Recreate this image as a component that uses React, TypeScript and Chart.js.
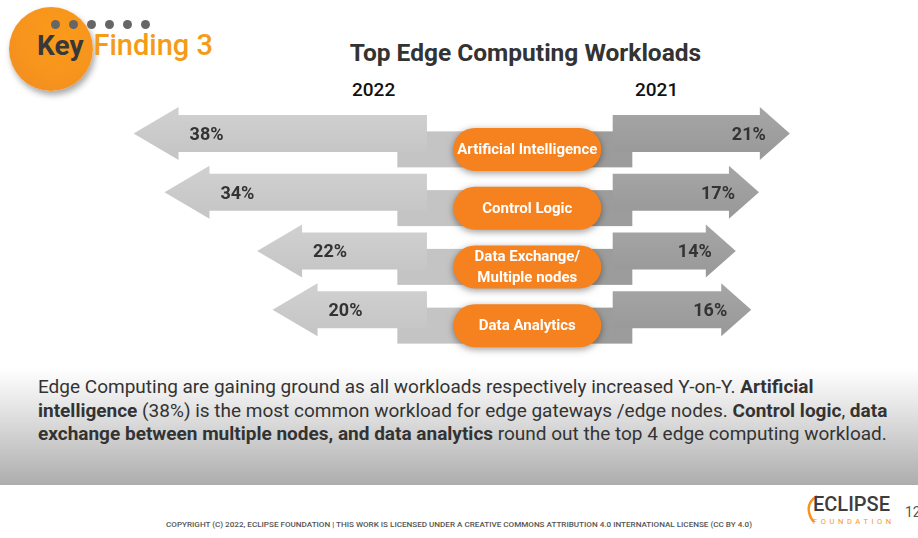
import React, { useEffect, useRef } from "react";
import { Chart, registerables } from "chart.js";

Chart.register(...registerables);

// ---------- data ----------
const categories = [
  "Artificial Intelligence",
  "Control Logic",
  "Data Exchange/\nMultiple nodes",
  "Data Analytics",
];
const values2022 = [38, 34, 22, 20];
const values2021 = [21, 17, 14, 16];
const yearLabels = ["2022", "2021"];

// ---------- layout constants ----------
const GAP = 13; // empty space (value units) each side of the centre
const XMIN = -68.3;
const XMAX = 50.6;
const FONT = "Roboto, 'Open Sans', sans-serif";

const LEFT_BAND = "#c4c4c4";
const RIGHT_BAND = "#9c9c9c";
const PILL = "#f5821f";

const arrowPlugin = {
  id: "edgeArrows",
  afterDatasetsDraw(chart: any) {
    const ctx: CanvasRenderingContext2D = chart.ctx;
    const xs = chart.scales.x;
    const cx = xs.getPixelForValue(0);
    const metaL = chart.getDatasetMeta(0);
    const metaR = chart.getDatasetMeta(1);
    const SH = 18.5; // shaft half-height
    const HH = 26.5; // head half-height

    ctx.save();
    metaL.data.forEach((el: any, i: number) => {
      const l = el.getProps(["x", "base", "y"], true);
      const r = metaR.data[i].getProps(["x", "base", "y"], true);
      const yc = l.y;
      // lower band behind the pill
      ctx.fillStyle = LEFT_BAND;
      ctx.fillRect(cx - 130, yc - 2, 130, 36);
      ctx.fillStyle = RIGHT_BAND;
      ctx.fillRect(cx, yc - 2, 105, 36);

      // left arrow (2022)
      const lt = l.x;
      const le = l.base;
      const HL = 45;
      const gL = ctx.createLinearGradient(0, yc - SH, 0, yc + SH);
      gL.addColorStop(0, "#cfcfcf");
      gL.addColorStop(1, "#c6c6c6");
      ctx.fillStyle = gL;
      ctx.beginPath();
      ctx.moveTo(lt, yc);
      ctx.lineTo(lt + HL, yc - HH);
      ctx.lineTo(lt + HL, yc - SH);
      ctx.lineTo(le, yc - SH);
      ctx.lineTo(le, yc + SH);
      ctx.lineTo(lt + HL, yc + SH);
      ctx.lineTo(lt + HL, yc + HH);
      ctx.closePath();
      ctx.fill();

      // right arrow (2021)
      const rt = r.x;
      const rs = r.base - 15;
      const HR = 30;
      const gR = ctx.createLinearGradient(0, yc - SH, 0, yc + SH);
      gR.addColorStop(0, "#a4a4a4");
      gR.addColorStop(1, "#9a9a9a");
      ctx.fillStyle = gR;
      ctx.beginPath();
      ctx.moveTo(rt, yc);
      ctx.lineTo(rt - HR, yc - HH);
      ctx.lineTo(rt - HR, yc - SH);
      ctx.lineTo(rs, yc - SH);
      ctx.lineTo(rs, yc + SH);
      ctx.lineTo(rt - HR, yc + SH);
      ctx.lineTo(rt - HR, yc + HH);
      ctx.closePath();
      ctx.fill();

      // value labels
      ctx.fillStyle = "#333333";
      ctx.font = `bold 18px ${FONT}`;
      ctx.textBaseline = "middle";
      ctx.textAlign = "left";
      ctx.fillText(`${values2022[i]}%`, lt + 56, yc + 2);
      ctx.textAlign = "right";
      ctx.fillText(`${values2021[i]}%`, rt - 24, yc + 2);
    });

    // pills
    metaL.data.forEach((el: any, i: number) => {
      const yc = el.getProps(["y"], true).y + 16;
      const w = 148;
      const h = 43;
      const x0 = cx - 74;
      const y0 = yc - h / 2;
      ctx.save();
      ctx.shadowColor = "rgba(0,0,0,0.4)";
      ctx.shadowBlur = 7;
      ctx.shadowOffsetX = 0;
      ctx.shadowOffsetY = 2;
      ctx.fillStyle = PILL;
      ctx.beginPath();
      ctx.roundRect(x0, y0, w, h, h / 2);
      ctx.fill();
      ctx.restore();

      ctx.fillStyle = "#ffffff";
      ctx.font = `bold 15px ${FONT}`;
      ctx.textAlign = "center";
      ctx.textBaseline = "middle";
      const lines = categories[i].split("\n");
      const lh = 21;
      lines.forEach((t, k) => {
        const ty = yc + 1 + (k - (lines.length - 1) / 2) * lh;
        ctx.fillText(t, cx, ty, 140);
      });
    });
    ctx.restore();
  },
};

function EdgeChart() {
  const ref = useRef<HTMLCanvasElement | null>(null);
  useEffect(() => {
    if (!ref.current) return;
    const chart = new Chart(ref.current, {
      type: "bar",
      data: {
        labels: categories,
        datasets: [
          {
            label: yearLabels[0],
            data: values2022.map((v) => [-(GAP + v), -GAP]) as any,
            backgroundColor: "rgba(0,0,0,0)",
            borderWidth: 0,
            barThickness: 37,
            grouped: false,
          } as any,
          {
            label: yearLabels[1],
            data: values2021.map((v) => [GAP, GAP + v]) as any,
            backgroundColor: "rgba(0,0,0,0)",
            borderWidth: 0,
            barThickness: 37,
            grouped: false,
          } as any,
        ],
      },
      options: {
        indexAxis: "y",
        animation: false,
        responsive: false,
        maintainAspectRatio: false,
        layout: { padding: { top: 9, bottom: 21, left: 0, right: 0 } },
        plugins: {
          legend: { display: false },
          tooltip: { enabled: false },
        },
        scales: {
          x: { type: "linear", min: XMIN, max: XMAX, display: false },
          y: { display: false },
        },
      },
      plugins: [arrowPlugin],
    });
    return () => chart.destroy();
  }, []);
  return (
    <canvas
      ref={ref}
      width={918}
      height={265}
      style={{ position: "absolute", left: 0, top: 95, width: 918, height: 265 }}
    />
  );
}

export default function App() {
  const dots = [0, 1, 2, 3, 4, 5];
  return (
    <div
      style={{
        position: "fixed",
        left: 0,
        top: 0,
        width: 918,
        height: 538,
        overflow: "hidden",
        background: "#ffffff",
        fontFamily: FONT,
      }}
    >
      {/* badge */}
      <div
        style={{
          position: "absolute",
          left: 9,
          top: 7,
          width: 84,
          height: 84,
          borderRadius: "50%",
          background: "radial-gradient(circle at 60% 35%, #fb9a1a 0%, #f7941d 55%, #ee8a22 100%)",
          boxShadow: "2px 4px 6px rgba(0,0,0,0.35)",
        }}
      />
      {dots.map((d) => (
        <div
          key={d}
          style={{
            position: "absolute",
            left: 51 + d * 18,
            top: 20,
            width: 9,
            height: 9,
            borderRadius: "50%",
            background: "#666666",
          }}
        />
      ))}
      <div
        style={{
          position: "absolute",
          left: 37,
          top: 29,
          fontSize: 28,
          lineHeight: "32px",
          whiteSpace: "nowrap",
        }}
      >
        <span style={{ fontWeight: 700, color: "#383838" }}>Key</span>
        <span style={{ fontWeight: 500, fontSize: 29, color: "#f59b16", marginLeft: 10 }}>Finding 3</span>
      </div>

      {/* title */}
      <div
        style={{
          position: "absolute",
          left: 0,
          width: 1051,
          top: 38,
          textAlign: "center",
          fontSize: 24.5,
          fontWeight: 700,
          color: "#333333",
          lineHeight: "30px",
        }}
      >
        Top Edge Computing Workloads
      </div>
      <div
        style={{
          position: "absolute",
          left: 352,
          top: 78,
          fontSize: 19,
          fontWeight: 500,
          color: "#111111",
          lineHeight: "24px",
        }}
      >
        {yearLabels[0]}
      </div>
      <div
        style={{
          position: "absolute",
          left: 635,
          top: 78,
          fontSize: 19,
          fontWeight: 500,
          color: "#111111",
          lineHeight: "24px",
        }}
      >
        {yearLabels[1]}
      </div>

      <EdgeChart />

      {/* summary band */}
      <div
        style={{
          position: "absolute",
          left: 0,
          top: 368,
          width: 918,
          height: 117,
          background: "linear-gradient(to bottom, #ffffff 0%, #e8e8e8 30%, #adadad 100%)",
        }}
      />
      <div
        style={{
          position: "absolute",
          left: 38,
          top: 375,
          fontSize: 19,
          lineHeight: "23.5px",
          color: "#333333",
          whiteSpace: "nowrap",
        }}
      >
        Edge Computing are gaining ground as all workloads respectively increased Y-on-Y.{" "}
        <b>Artificial</b>
        <br />
        <b>intelligence</b> (38%) is the most common workload for edge gateways /edge nodes.{" "}
        <b>Control logic</b>, <b>data</b>
        <br />
        <b>exchange between multiple nodes, and data analytics</b> round out the top 4 edge computing
        workload.
      </div>

      {/* footer */}
      <div
        style={{
          position: "absolute",
          left: 0,
          width: 918,
          top: 519,
          textAlign: "center",
          fontSize: 8.1,
          fontWeight: 500,
          color: "#555555",
          whiteSpace: "nowrap",
        }}
      >
        COPYRIGHT (C) 2022, ECLIPSE FOUNDATION | THIS WORK IS LICENSED UNDER A CREATIVE COMMONS
        ATTRIBUTION 4.0 INTERNATIONAL LICENSE (CC BY 4.0)
      </div>
      <svg
        width={14}
        height={30}
        style={{ position: "absolute", left: 805, top: 494 }}
        viewBox="0 0 14 30"
      >
        <path d="M12 2 Q2 8 4 18 Q5 24 9 28" stroke="#f7941e" strokeWidth={2.4} fill="none" />
      </svg>
      <div
        style={{
          position: "absolute",
          left: 813,
          top: 492,
          fontSize: 20,
          fontWeight: 500,
          color: "#3d3d3d",
          lineHeight: "24px",
        }}
      >
        ECLIPSE
      </div>
      <div
        style={{
          position: "absolute",
          left: 813,
          top: 517,
          fontSize: 7.5,
          color: "#f7941e",
          letterSpacing: 3.6,
          lineHeight: "10px",
        }}
      >
        FOUNDATION
      </div>
      <div
        style={{
          position: "absolute",
          left: 905,
          top: 503,
          fontSize: 14,
          color: "#555555",
          lineHeight: "18px",
        }}
      >
        12
      </div>
    </div>
  );
}
